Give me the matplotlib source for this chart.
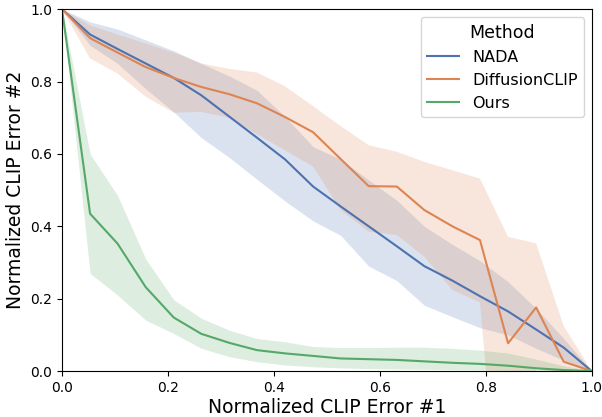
import matplotlib
matplotlib.use("Agg")
import matplotlib.pyplot as plt

x = [0.0, 0.053, 0.105, 0.158, 0.211, 0.263, 0.316, 0.368, 0.421, 0.474,
     0.526, 0.579, 0.632, 0.684, 0.737, 0.789, 0.842, 0.895, 0.947, 1.0]

nada = [1.0, 0.93, 0.89, 0.85, 0.81, 0.762, 0.703, 0.645, 0.585, 0.51,
        0.455, 0.40, 0.345, 0.29, 0.25, 0.207, 0.165, 0.115, 0.065, 0.0]
nada_hi = [1.0, 0.965, 0.945, 0.915, 0.885, 0.85, 0.815, 0.776, 0.703, 0.62,
           0.585, 0.528, 0.472, 0.40, 0.35, 0.305, 0.247, 0.173, 0.09, 0.0]
nada_lo = [1.0, 0.90, 0.85, 0.78, 0.716, 0.645, 0.59, 0.53, 0.47, 0.415,
           0.375, 0.29, 0.25, 0.182, 0.15, 0.12, 0.10, 0.063, 0.03, 0.0]

diff = [1.0, 0.92, 0.88, 0.84, 0.81, 0.785, 0.765, 0.74, 0.702, 0.66,
        0.586, 0.511, 0.51, 0.445, 0.40, 0.362, 0.077, 0.176, 0.026, 0.0]
diff_hi = [1.0, 0.955, 0.93, 0.905, 0.88, 0.85, 0.835, 0.825, 0.787, 0.732,
           0.677, 0.624, 0.606, 0.578, 0.555, 0.532, 0.371, 0.353, 0.125, 0.0]
diff_lo = [1.0, 0.864, 0.822, 0.758, 0.714, 0.716, 0.70, 0.655, 0.61, 0.565,
           0.445, 0.385, 0.376, 0.316, 0.224, 0.19, -0.70, 0.01, -0.02, 0.0]

ours = [1.0, 0.435, 0.352, 0.232, 0.148, 0.103, 0.078, 0.058, 0.049, 0.042,
        0.035, 0.033, 0.031, 0.027, 0.023, 0.02, 0.015, 0.008, 0.003, 0.0]
ours_hi = [1.0, 0.60, 0.485, 0.31, 0.197, 0.146, 0.113, 0.09, 0.081, 0.068,
           0.065, 0.065, 0.066, 0.066, 0.063, 0.058, 0.05, 0.033, 0.015, 0.0]
ours_lo = [1.0, 0.27, 0.21, 0.141, 0.104, 0.063, 0.04, 0.026, 0.017, 0.012,
           0.009, 0.007, 0.006, 0.005, 0.004, 0.003, 0.002, 0.001, 0.0, 0.0]

methods = ["NADA", "DiffusionCLIP", "Ours"]
colors = ["#4c72b0", "#dd8452", "#55a868"]

fig = plt.figure(figsize=(6.02, 4.17), dpi=100)
ax = fig.add_axes([0.103, 0.110, 0.880, 0.868])

series = [(nada, nada_lo, nada_hi), (diff, diff_lo, diff_hi), (ours, ours_lo, ours_hi)]
for (y, lo, hi), name, c in zip(series, methods, colors):
    ax.fill_between(x, lo, hi, color=c, alpha=0.2, linewidth=0)
    ax.plot(x, y, color=c, lw=1.5, label=name)

ax.set_xlim(0, 1)
ax.set_ylim(0, 1)
ax.set_xlabel("Normalized CLIP Error #1", fontsize=13.5, labelpad=2)
ax.set_ylabel("Normalized CLIP Error #2", fontsize=13.5)
ax.tick_params(labelsize=10)
leg = ax.legend(title="Method", fontsize=11.5, title_fontsize=12.5, loc="upper right")

fig.savefig("out.png", dpi=100)
